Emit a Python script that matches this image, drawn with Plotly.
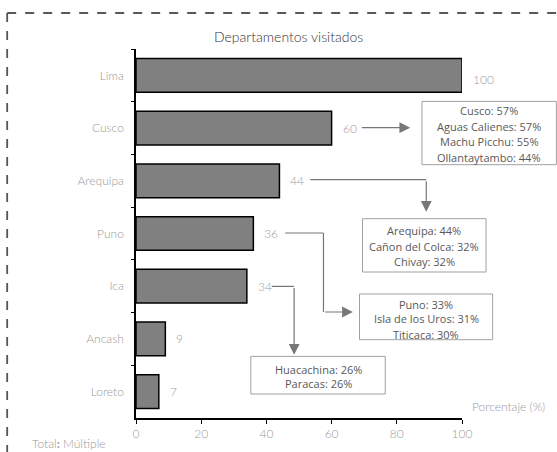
import plotly.graph_objects as go

# ---------------- data ----------------
departamentos = ["Lima", "Cusco", "Arequipa", "Puno", "Ica", "Ancash", "Loreto"]
porcentaje = [100, 60, 44, 36, 34, 9, 7]
x_ticks = [0, 20, 40, 60, 80, 100]

detalle_cusco = ["Cusco: 57%", "Aguas Calienes: 57%", "Machu Picchu: 55%", "Ollantaytambo: 44%"]
detalle_arequipa = ["Arequipa: 44%", "Cañon del Colca: 32%", "Chivay: 32%"]
detalle_puno = ["Puno: 33%", "Isla de los Uros: 31%", "Titicaca: 30%"]
detalle_ica = ["Huacachina: 26%", "Paracas: 26%"]

titulo = "Departamentos visitados"
eje_x = "Porcentaje (%)"
nota = "Total<b>:</b> Múltiple"

# ---------------- layout geometry (pixels) ----------------
W, H = 557, 452
L, R, T, B = 136, 461.7, 49.3, 418.3

def px(xp):
    return (xp - L) / (R - L)

def py(yp):
    return (B - yp) / (B - T)

FONT = "Lato"
GRAY = "#9a9a9a"
BOXTXT = "#595959"
ARROW = "#777777"

fig = go.Figure()
fig.add_trace(go.Bar(
    x=porcentaje, y=departamentos, orientation="h", width=0.64,
    marker=dict(color="#808080", line=dict(color="#000000", width=1.5)),
    hoverinfo="skip", showlegend=False,
))

annotations = []
shapes = []

# value labels next to bars
for d, v in zip(departamentos, porcentaje):
    annotations.append(dict(x=v, y=d, xref="x", yref="y", text=str(v), showarrow=False,
                            xanchor="left", xshift=9, yshift=(-4 if v == max(porcentaje) else 0),
                            font=dict(family=FONT, size=12, color=GRAY, weight=300)))

# title, axis title, note
annotations.append(dict(x=px(288.3), y=py(36.7), xref="paper", yref="paper", text=titulo,
                        showarrow=False, xanchor="center", yanchor="middle",
                        font=dict(family=FONT, size=14, color="#333333", weight=300)))
annotations.append(dict(x=px(546.7), y=py(406.7), xref="paper", yref="paper", text=eje_x,
                        showarrow=False, xanchor="right", yanchor="middle",
                        font=dict(family=FONT, size=12, color=GRAY, weight=300)))
annotations.append(dict(x=px(30), y=py(443.3), xref="paper", yref="paper", text=nota,
                        showarrow=False, xanchor="left", yanchor="middle",
                        font=dict(family=FONT, size=12, color=GRAY, weight=300)))

# dashed frame (top & left)
shapes.append(dict(type="line", xref="paper", yref="paper", x0=px(7.3), y0=py(13.3), x1=px(560), y1=py(13.3),
                   line=dict(color="#222222", width=1.3, dash="dash")))
shapes.append(dict(type="line", xref="paper", yref="paper", x0=px(7.3), y0=py(13.3), x1=px(7.3), y1=py(455),
                   line=dict(color="#555555", width=1.8, dash="dash")))

# detail boxes
boxes = [
    (detalle_cusco, (421.7, 101.7, 556, 165), [111, 126.7, 141.8, 157.5]),
    (detalle_arequipa, (362.3, 219, 485.7, 272.3), [231, 246.5, 261.7]),
    (detalle_puno, (359.3, 294.3, 492.3, 340), [304.3, 319, 334.3]),
    (detalle_ica, (250.7, 356.7, 385, 394.3), [369.3, 383.3]),
]
for lines, (x0, y0, x1, y1), ys in boxes:
    shapes.append(dict(type="rect", xref="paper", yref="paper", x0=px(x0), y0=py(y0), x1=px(x1), y1=py(y1),
                       line=dict(color="#a0a0a0", width=1), fillcolor="white", layer="below"))
    cx = (x0 + x1) / 2
    for t, yy in zip(lines, ys):
        annotations.append(dict(x=px(cx), y=py(yy), xref="paper", yref="paper", text=t, showarrow=False,
                                xanchor="center", yanchor="middle",
                                font=dict(family="Open Sans", size=11, color=BOXTXT)))

# connector lines
def seg(xa, ya, xb, yb):
    shapes.append(dict(type="line", xref="paper", yref="paper", x0=px(xa), y0=py(ya), x1=px(xb), y1=py(yb),
                       line=dict(color=ARROW, width=1.2)))

seg(310, 180, 426, 180)
seg(285, 233.3, 323.3, 233.3)
seg(323.3, 233.3, 323.3, 312.3)
seg(271.7, 286.7, 294, 286.7)

def arrow(hx, hy, tx, ty):
    annotations.append(dict(x=px(hx), y=py(hy), xref="paper", yref="paper", text="", showarrow=True,
                            ax=tx - hx, ay=ty - hy, axref="pixel", ayref="pixel",
                            arrowhead=2, arrowsize=1.8, arrowwidth=1.2, arrowcolor=ARROW, standoff=0))

arrow(410, 128, 360, 128)
arrow(426, 212, 426, 180)
arrow(352.7, 312.3, 323.3, 312.3)
arrow(294, 355, 294, 286.7)

fig.update_layout(
    width=W, height=H,
    margin=dict(l=L, r=W - R, t=T, b=H - B, pad=0),
    paper_bgcolor="white", plot_bgcolor="white",
    bargap=0.36,
    xaxis=dict(range=[0, 100], tickvals=x_ticks, ticks="outside", ticklen=4, tickcolor="#000",
               showline=True, linecolor="#000", linewidth=1.5, showgrid=False, zeroline=False,
               tickfont=dict(family=FONT, size=12, color=GRAY, weight=300), automargin=False,
               fixedrange=True),
    yaxis=dict(categoryorder="array", categoryarray=departamentos, range=[6.5, -0.5],
               ticks="outside", ticklen=3, tickcolor="#000", tickson="boundaries",
               showline=True, linecolor="#000", linewidth=1.5, showgrid=False, zeroline=False,
               tickfont=dict(family=FONT, size=12, color=GRAY, weight=300), automargin=False,
               ticklabelstandoff=8, fixedrange=True),
    annotations=annotations, shapes=shapes,
)

fig.write_html("out.html", config={"displayModeBar": False},
               post_script="document.body.style.margin='0';document.body.style.overflow='hidden';")
